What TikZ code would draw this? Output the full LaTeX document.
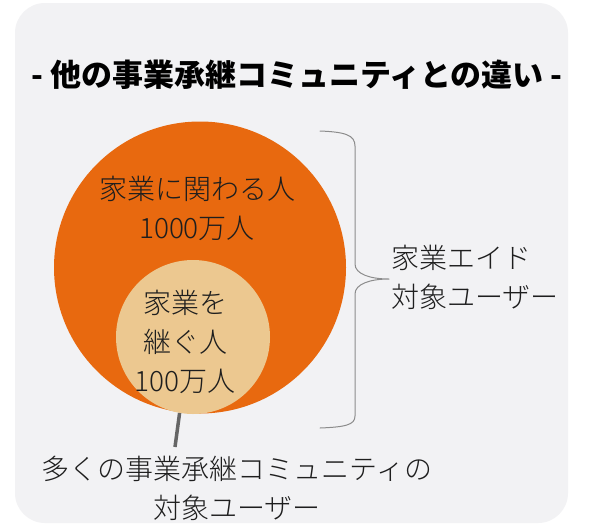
\documentclass[tikz,border=0pt]{standalone}
\usepackage{fontspec}
\usepackage{xcolor}
\usetikzlibrary{calc}
\newfontfamily\cjk{Noto Sans CJK JP}
\IfFontExistsTF{Noto Sans CJK JP Light}
  {\newfontfamily\cjklight{Noto Sans CJK JP Light}}
  {\newfontfamily\cjklight{Noto Sans CJK JP}}
\definecolor{panelgray}{HTML}{F2F2F4}
\definecolor{bigorange}{HTML}{E8690F}
\definecolor{tan}{HTML}{ECC890}
\definecolor{bracegray}{HTML}{8C8C8C}
\definecolor{stemgray}{HTML}{666666}
\definecolor{ink}{HTML}{1E1E1E}

\begin{document}
\begin{tikzpicture}[line cap=round,line join=round,x=1pt,y=-1pt,
    lbl/.style={inner sep=0pt,align=center,text=ink,font=\cjklight\fontsize{28}{39}\selectfont},
    blob/.style={circle,inner sep=0pt,draw=none}]
                \useasboundingbox (0,0) rectangle (600,528);
                \fill [white] (0,0) rectangle (600,528);
                \fill [panelgray,rounded corners=30pt] (15,3) rectangle (568,523);
                % title
                \node[inner sep=0pt,text=black,font=\cjk\bfseries\fontsize{31}{31}\selectfont] (title) at (297,75) {- 他の事業承継コミュニティとの違い -};
                % circles
                \node[blob,fill=bigorange,minimum size=292pt] (outer) at (200,267.5) {};
                \node[blob,fill=tan,minimum size=154pt] (inner) at (193,337) {};
                \node[lbl] (outertext) at (197,208.5) {家業に関わる人\\1000万人};
                \node[lbl] (innertext) at (185,341.5) {家業を\\継ぐ人\\100万人};
                % brace
                \draw [line width=1pt,color=bracegray] (320,131) .. controls (345,132) and (355,135) .. (355,146)
                    -- (355,264) .. controls (355,274) and (370,279) .. (389,279)
                    .. controls (370,279) and (355,284) .. (355,294)
                    -- (355,416) .. controls (355,425) and (345,427) .. (320,428);
                \node[lbl,anchor=west,align=left] (aidtext) at (391,277) {家業エイド\\対象ユーザー};
                % stem to other communities
                \coordinate (stemend) at (175,447);
                \draw [line width=3.5pt,color=stemgray,line cap=butt] (inner.260) -- (stemend);
                \node[lbl] (othertext) at (237,488.5) {多くの事業承継コミュニティの\\対象ユーザー};
\end{tikzpicture}
\end{document}
